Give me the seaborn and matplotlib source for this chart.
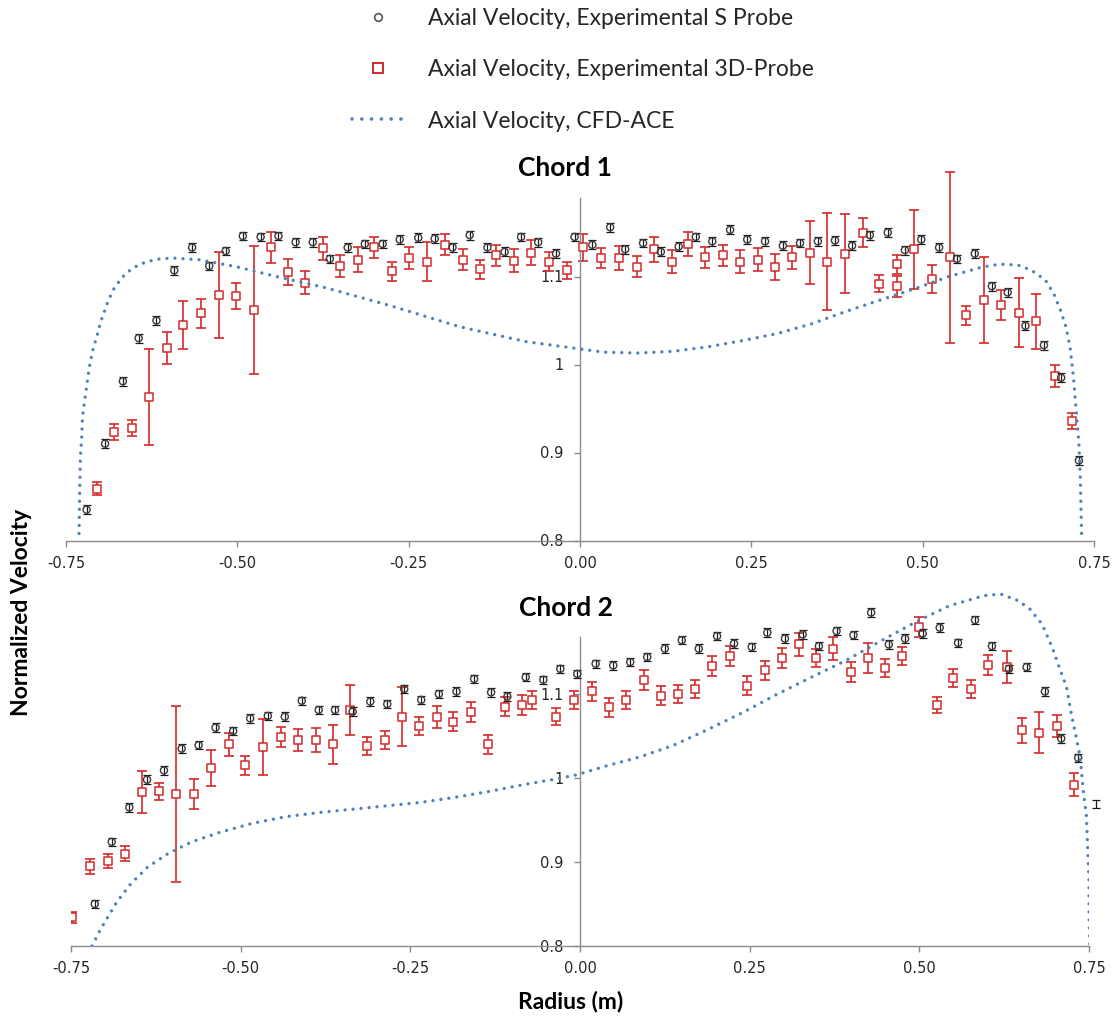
import matplotlib
matplotlib.use("Agg")
import matplotlib.pyplot as plt
from matplotlib.lines import Line2D
import seaborn as sns

# ---------------- Chord 1 ----------------
# S probe (radius, normalized axial velocity)
c1_s_r = [-0.720, -0.693, -0.667, -0.644, -0.618, -0.592, -0.566, -0.541, -0.517, -0.492,
          -0.466, -0.440, -0.415, -0.390, -0.365, -0.339, -0.314, -0.288, -0.263, -0.236,
          -0.212, -0.186, -0.161, -0.135, -0.110, -0.086, -0.061, -0.035, -0.008,
          0.018, 0.044, 0.066, 0.092, 0.118, 0.144, 0.169, 0.193, 0.219, 0.244,
          0.270, 0.296, 0.321, 0.347, 0.372, 0.397, 0.423, 0.449, 0.474, 0.498,
          0.524, 0.550, 0.576, 0.601, 0.624, 0.650, 0.677, 0.702, 0.728]
c1_s_v = [0.835, 0.910, 0.981, 1.030, 1.050, 1.107, 1.133, 1.112, 1.129, 1.146,
          1.145, 1.146, 1.139, 1.139, 1.120, 1.133, 1.137, 1.137, 1.142, 1.144,
          1.143, 1.133, 1.147, 1.133, 1.128, 1.145, 1.139, 1.126, 1.145,
          1.136, 1.156, 1.131, 1.138, 1.128, 1.134, 1.145, 1.140, 1.153, 1.142,
          1.140, 1.135, 1.138, 1.140, 1.141, 1.135, 1.147, 1.150, 1.130, 1.142,
          1.133, 1.120, 1.126, 1.089, 1.082, 1.044, 1.022, 0.985, 0.891]

# 3D probe
c1_d_r = [-0.705, -0.680, -0.654, -0.629, -0.603, -0.579, -0.553, -0.527, -0.502, -0.476,
          -0.451, -0.426, -0.401, -0.375, -0.350, -0.324, -0.300, -0.274, -0.249, -0.223,
          -0.197, -0.171, -0.146, -0.122, -0.097, -0.071, -0.045, -0.019,
          0.005, 0.031, 0.057, 0.083, 0.108, 0.134, 0.157, 0.183, 0.209, 0.234,
          0.260, 0.285, 0.310, 0.335, 0.361, 0.387, 0.413, 0.437, 0.462, 0.462,
          0.487, 0.514, 0.540, 0.563, 0.589, 0.615, 0.640, 0.666, 0.693, 0.718]
c1_d_v = [0.859, 0.923, 0.928, 0.963, 1.019, 1.045, 1.058, 1.079, 1.078, 1.062,
          1.133, 1.105, 1.093, 1.132, 1.112, 1.119, 1.133, 1.106, 1.121, 1.117,
          1.136, 1.119, 1.108, 1.124, 1.118, 1.127, 1.117, 1.107,
          1.133, 1.121, 1.121, 1.111, 1.131, 1.117, 1.137, 1.122, 1.124, 1.117,
          1.119, 1.111, 1.122, 1.127, 1.117, 1.126, 1.150, 1.092, 1.114, 1.089,
          1.131, 1.097, 1.122, 1.056, 1.073, 1.068, 1.059, 1.049, 0.987, 0.936]
c1_d_err = [0.007, 0.009, 0.009, 0.055, 0.018, 0.027, 0.016, 0.049, 0.015, 0.073,
            0.018, 0.015, 0.013, 0.013, 0.012, 0.014, 0.012, 0.011, 0.012, 0.022,
            0.012, 0.012, 0.011, 0.012, 0.013, 0.014, 0.011, 0.010,
            0.015, 0.011, 0.014, 0.012, 0.014, 0.013, 0.014, 0.012, 0.012, 0.013,
            0.013, 0.015, 0.013, 0.036, 0.055, 0.045, 0.017, 0.010, 0.011, 0.012,
            0.045, 0.016, 0.097, 0.011, 0.049, 0.017, 0.039, 0.031, 0.012, 0.009]

# CFD-ACE
c1_cfd_r = [-0.731, -0.730, -0.729, -0.727, -0.726, -0.722, -0.718, -0.715, -0.711, -0.705,
            -0.700, -0.696, -0.688, -0.681, -0.671, -0.662, -0.649, -0.632, -0.613, -0.594,
            -0.555, -0.501, -0.443, -0.370, -0.273, -0.176, -0.079, -0.003, 0.035, 0.085,
            0.136, 0.186, 0.236, 0.287, 0.337, 0.387, 0.437, 0.488, 0.538, 0.588,
            0.613, 0.639, 0.659, 0.679, 0.691, 0.701, 0.709, 0.715, 0.720, 0.724,
            0.728, 0.730, 0.732]
c1_cfd_v = [0.808, 0.857, 0.895, 0.918, 0.940, 0.963, 0.986, 1.001, 1.016, 1.032,
            1.047, 1.056, 1.073, 1.085, 1.096, 1.104, 1.111, 1.117, 1.120, 1.121,
            1.119, 1.111, 1.100, 1.087, 1.066, 1.043, 1.026, 1.018, 1.014, 1.013,
            1.015, 1.020, 1.027, 1.035, 1.046, 1.060, 1.073, 1.086, 1.100, 1.111,
            1.114, 1.113, 1.107, 1.096, 1.081, 1.062, 1.043, 1.020, 0.986, 0.948,
            0.910, 0.872, 0.801]

# ---------------- Chord 2 ----------------
c2_s_r = [-0.715, -0.690, -0.664, -0.638, -0.613, -0.587, -0.562, -0.537, -0.511, -0.486,
          -0.460, -0.435, -0.410, -0.385, -0.361, -0.335, -0.309, -0.284, -0.259, -0.234,
          -0.208, -0.182, -0.156, -0.131, -0.107, -0.080, -0.054, -0.029, -0.004,
          0.023, 0.049, 0.074, 0.099, 0.125, 0.150, 0.175, 0.202, 0.227, 0.253,
          0.276, 0.302, 0.328, 0.352, 0.378, 0.403, 0.429, 0.455, 0.479, 0.505,
          0.530, 0.557, 0.582, 0.607, 0.632, 0.658, 0.685, 0.709, 0.734]
c2_s_v = [0.850, 0.924, 0.965, 0.998, 1.009, 1.035, 1.039, 1.060, 1.056, 1.071,
          1.074, 1.073, 1.092, 1.081, 1.081, 1.079, 1.091, 1.088, 1.106, 1.093,
          1.100, 1.103, 1.118, 1.102, 1.097, 1.120, 1.117, 1.130, 1.124,
          1.136, 1.134, 1.138, 1.144, 1.154, 1.164, 1.154, 1.169, 1.160, 1.156,
          1.173, 1.166, 1.171, 1.157, 1.175, 1.170, 1.197, 1.159, 1.166, 1.172,
          1.179, 1.161, 1.188, 1.157, 1.130, 1.132, 1.103, 1.047, 1.024]
# last S-probe reading, just past the axis end (only its bar shows)
c2_s_edge_r = [0.760]
c2_s_edge_v = [0.969]

c2_d_r = [-0.748, -0.722, -0.696, -0.670, -0.646, -0.621, -0.595, -0.569, -0.543, -0.517,
          -0.493, -0.467, -0.441, -0.415, -0.389, -0.364, -0.339, -0.314, -0.288, -0.262,
          -0.237, -0.211, -0.187, -0.161, -0.136, -0.110, -0.086, -0.070, -0.035, -0.009,
          0.018, 0.043, 0.068, 0.094, 0.119, 0.145, 0.170, 0.195, 0.221, 0.246,
          0.272, 0.297, 0.323, 0.348, 0.373, 0.400, 0.425, 0.449, 0.475, 0.500,
          0.526, 0.550, 0.576, 0.601, 0.629, 0.652, 0.677, 0.703, 0.728]
c2_d_v = [0.834, 0.895, 0.901, 0.910, 0.983, 0.984, 0.981, 0.981, 1.012, 1.040,
          1.015, 1.037, 1.049, 1.045, 1.045, 1.040, 1.081, 1.038, 1.045, 1.073,
          1.062, 1.073, 1.067, 1.079, 1.040, 1.085, 1.087, 1.093, 1.073, 1.093,
          1.103, 1.084, 1.093, 1.117, 1.098, 1.100, 1.106, 1.133, 1.145, 1.110,
          1.128, 1.143, 1.159, 1.143, 1.154, 1.126, 1.143, 1.131, 1.145, 1.180,
          1.087, 1.119, 1.106, 1.135, 1.132, 1.057, 1.054, 1.062, 0.992]
c2_d_err = [0.007, 0.009, 0.008, 0.009, 0.025, 0.010, 0.105, 0.018, 0.021, 0.014,
            0.011, 0.033, 0.012, 0.013, 0.014, 0.023, 0.030, 0.011, 0.011, 0.035,
            0.011, 0.013, 0.011, 0.012, 0.011, 0.011, 0.012, 0.011, 0.010, 0.011,
            0.011, 0.011, 0.011, 0.012, 0.011, 0.011, 0.011, 0.012, 0.012, 0.011,
            0.011, 0.012, 0.014, 0.011, 0.014, 0.012, 0.018, 0.011, 0.011, 0.012,
            0.010, 0.011, 0.011, 0.012, 0.019, 0.015, 0.024, 0.013, 0.014]

c2_cfd_r = [-0.719, -0.707, -0.694, -0.682, -0.662, -0.637, -0.607, -0.572, -0.532, -0.483,
            -0.433, -0.383, -0.333, -0.283, -0.234, -0.184, -0.134, -0.084, -0.034, -0.004,
            0.037, 0.088, 0.138, 0.189, 0.240, 0.291, 0.341, 0.392, 0.443, 0.493,
            0.544, 0.595, 0.620, 0.646, 0.663, 0.681, 0.696, 0.706, 0.717, 0.724,
            0.731, 0.737, 0.742, 0.746, 0.748, 0.750, 0.750, 0.751]
c2_cfd_v = [0.800, 0.819, 0.837, 0.853, 0.874, 0.894, 0.910, 0.924, 0.935, 0.946,
            0.954, 0.959, 0.963, 0.967, 0.971, 0.977, 0.984, 0.992, 0.999, 1.004,
            1.014, 1.025, 1.039, 1.058, 1.078, 1.100, 1.120, 1.140, 1.163, 1.185,
            1.205, 1.217, 1.219, 1.211, 1.201, 1.183, 1.155, 1.132, 1.108, 1.076,
            1.049, 1.025, 0.981, 0.957, 0.918, 0.878, 0.839, 0.801]

S_PROBE_ERR = 0.005

x_ticks = [-0.75, -0.50, -0.25, 0.0, 0.25, 0.50, 0.75]
x_tick_labels = ['-0.75', '-0.50', '-0.25', '0.00', '0.25', '0.50', '0.75']
y_ticks = [0.8, 0.9, 1.0, 1.1]
y_tick_labels = ['0.8', '0.9', '1', '1.1']

legend_labels = ['Axial Velocity, Experimental S Probe',
                 'Axial Velocity, Experimental 3D-Probe',
                 'Axial Velocity, CFD-ACE']

RED = '#d42a2a'
DARK = '#3a3a3a'
BLUE = '#4f81bd'
GREY = '#8c8c8c'
TXT = '#262626'
DOTS = (0, (0.01, 2.4))

sns.set_theme(style='ticks')
plt.rcParams['font.family'] = ['DejaVu Sans']

W, H = 1112, 1016
fig = plt.figure(figsize=(W / 100, H / 100), dpi=100)
fig.patch.set_facecolor('white')


def px_axes(x0, x1, y_bottom, y_top):
    # axes placed by pixel corners of the reference
    return fig.add_axes([x0 / W, 1 - y_bottom / H, (x1 - x0) / W, (y_bottom - y_top) / H])


def draw_chord(ax, s_r, s_v, d_r, d_v, d_err, cfd_r, cfd_v, spine_top):
    ax.errorbar(d_r, d_v, yerr=d_err, fmt='none', ecolor=RED, elinewidth=1.2,
                capsize=3.4, capthick=1.2, zorder=2)
    sns.scatterplot(x=d_r, y=d_v, ax=ax, marker='s', s=38, color=RED,
                    facecolor='white', edgecolor=RED, linewidth=1.1, zorder=3, legend=False)
    ax.errorbar(s_r, s_v, yerr=S_PROBE_ERR, fmt='none', ecolor='#1a1a1a', elinewidth=0.9,
                capsize=3.0, capthick=0.9, zorder=4)
    sns.scatterplot(x=s_r, y=s_v, ax=ax, marker='o', s=26, color=DARK,
                    facecolor='none', edgecolor=DARK, linewidth=1.0, zorder=4, legend=False)
    sns.lineplot(x=cfd_r, y=cfd_v, ax=ax, sort=False, estimator=None, color=BLUE,
                 lw=2.4, linestyle=DOTS, dash_capstyle='round', zorder=5, legend=False)

    ax.set_xlim(-0.75, 0.75)
    ax.set_ylim(0.8, 1.23)
    ax.set_facecolor('none')
    ax.spines['top'].set_visible(False)
    ax.spines['right'].set_visible(False)
    ax.spines['left'].set_position(('data', 0))
    ax.spines['left'].set_bounds(0.8, spine_top)
    for side in ['left', 'bottom']:
        ax.spines[side].set_color(GREY)
        ax.spines[side].set_linewidth(1.0)
    ax.set_xticks(x_ticks)
    ax.set_xticklabels(x_tick_labels)
    ax.set_yticks(y_ticks)
    ax.set_yticklabels(y_tick_labels)
    ax.tick_params(axis='both', direction='out', length=4, width=1.0, color=GREY,
                   labelsize=10.5, labelcolor=TXT)
    ax.tick_params(axis='x', pad=7)
    ax.tick_params(axis='y', pad=8)
    ax.set_xlabel('')
    ax.set_ylabel('')


ax1 = px_axes(66, 1094, 540.5, 162.1)
draw_chord(ax1, c1_s_r, c1_s_v, c1_d_r, c1_d_v, c1_d_err, c1_cfd_r, c1_cfd_v, 1.189)

ax2 = px_axes(71, 1089, 946, 584.8)
draw_chord(ax2, c2_s_r, c2_s_v, c2_d_r, c2_d_v, c2_d_err, c2_cfd_r, c2_cfd_v, 1.168)
ax2.errorbar(c2_s_edge_r, c2_s_edge_v, yerr=S_PROBE_ERR, fmt='none', ecolor='#1a1a1a',
             elinewidth=0.9, capsize=3.0, capthick=0.9, clip_on=False, zorder=4)

# titles and axis labels
title_kw = dict(ha='center', va='center', family='Lato', weight='bold', color='black')
fig.text(565 / W, 1 - 168 / H, 'Chord 1', size=19, **title_kw)
fig.text(566 / W, 1 - 608 / H, 'Chord 2', size=19, **title_kw)
fig.text(571 / W, 1 - 1002 / H, 'Radius (m)', size=16.5, **title_kw)
fig.text(22 / W, 1 - 612 / H, 'Normalized Velocity', size=16.5, rotation=90, **title_kw)

# legend
handles = [
    Line2D([], [], ls='none', marker='o', ms=5.5, mfc='none', mec='#555555', mew=1.2),
    Line2D([], [], ls='none', marker='s', ms=6.5, mfc='white', mec=RED, mew=1.4),
    Line2D([], [], color=BLUE, lw=2.6, ls=(0, (0.01, 2.7)), dash_capstyle='round'),
]
fig.legend(handles, legend_labels, loc='upper left', bbox_to_anchor=(352 / W, 1 - 8 / H),
           frameon=False, prop={'family': 'Lato', 'size': 16.5}, labelcolor=TXT,
           handlelength=2.3, handletextpad=1.0, labelspacing=1.32,
           borderpad=0, borderaxespad=0)

fig.savefig('out.png', dpi=100)
